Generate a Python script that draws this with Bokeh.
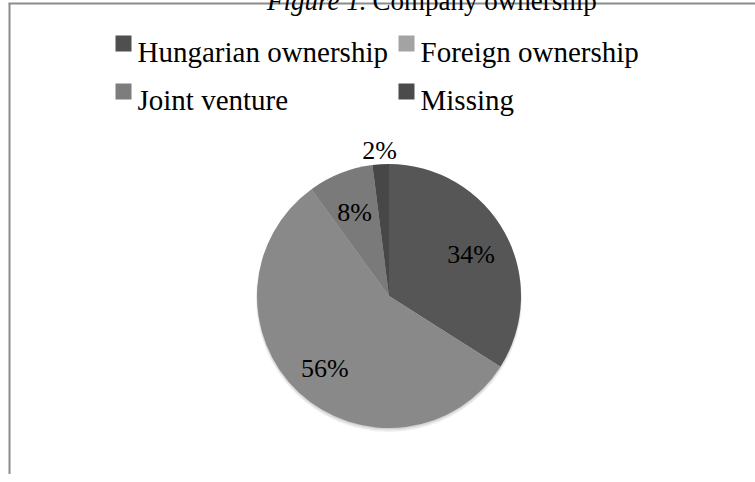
import numpy as np
from bokeh.plotting import figure
from bokeh.models import Range1d, ColumnDataSource
from bokeh.embed import file_html
from bokeh.resources import INLINE
from bokeh.core.properties import value

# ---- data ----
categories = ["Hungarian ownership", "Foreign ownership", "Joint venture", "Missing"]
shares = [34, 56, 8, 2]
slice_colors = ["#565656", "#898989", "#7a7a7a", "#474747"]
swatch_colors = ["#4f4f4f", "#a3a3a3", "#7d7d7d", "#4b4b4b"]
title_italic = "Figure 1."
title_rest = "Company ownership"

# ---- layout (canvas placed at page origin) ----
W, H = 755, 482
FONT = value("Liberation Serif")


def Y(py):
    return H - py


p = figure(width=W, height=H, output_backend="svg", toolbar_location=None,
           x_range=Range1d(0, W), y_range=Range1d(0, H),
           x_axis_type=None, y_axis_type=None, min_border=0)
p.margin = (-8, 0, 0, 0)
p.grid.visible = False
p.outline_line_color = None
p.background_fill_color = "white"
p.border_fill_color = "white"

# chart border (top and left edges visible)
p.segment(x0=[8, 9], y0=[Y(11), Y(11)], x1=[755, 9], y1=[Y(11), Y(482)],
          line_color="#8c8c8c", line_width=2)

# title (partially cut at top)
p.text(x=[366], y=[Y(8)], text=[title_italic], text_font=FONT, text_font_size="27px",
       text_font_style="italic", text_align="right", text_baseline="alphabetic", text_color="black")
p.text(x=[372], y=[Y(8)], text=[title_rest], text_font=FONT, text_font_size="27px",
       text_align="left", text_baseline="alphabetic", text_color="black")

# pie
cx, cy, R = 388.5, Y(303.5), 132
fr = np.array(shares, dtype=float) / np.sum(shares)
cum = np.concatenate([[0], np.cumsum(fr)])
start = np.pi / 2 - 2 * np.pi * cum[:-1]
end = np.pi / 2 - 2 * np.pi * cum[1:]
mid = (start + end) / 2

# soft shadow
for off, rr, a in [(3, 133, 0.05), (2, 132.5, 0.07), (1, 132, 0.08)]:
    p.circle(x=[cx], y=[cy - off], radius=rr, fill_color="black", fill_alpha=a, line_color=None)

src = ColumnDataSource(dict(start=start, end=end, color=slice_colors))
p.wedge(x=cx, y=cy, radius=R, start_angle="start", end_angle="end", direction="clock",
        fill_color="color", line_color=None, source=src)

lab_r = np.where(fr < 0.05, R + 18, 0.71 * R)
lx = cx + lab_r * np.cos(mid)
ly = cy + lab_r * np.sin(mid) - 4
labels = [f"{s}%" for s in shares]
p.text(x=lx, y=ly, text=labels, text_font=FONT, text_font_size="26px",
       text_align="center", text_baseline="middle", text_color="black")

# legend (2 columns x 2 rows)
col_x = [115, 398]
row_base = [59, 107]
sw_x, sw_y, tx, ty = [], [], [], []
for i, name in enumerate(categories):
    c = col_x[i % 2]
    b = row_base[i // 2]
    sw_x.append(c + 8)
    sw_y.append(Y(b - 8))
    tx.append(c + 22)
    ty.append(Y(b))
p.rect(x=sw_x, y=sw_y, width=16, height=16, fill_color=swatch_colors, line_color=None)
p.text(x=tx, y=ty, text=categories, text_font=FONT, text_font_size="29px",
       text_align="left", text_baseline="alphabetic", text_color="black")

open("out.html", "w").write(file_html(p, INLINE))
